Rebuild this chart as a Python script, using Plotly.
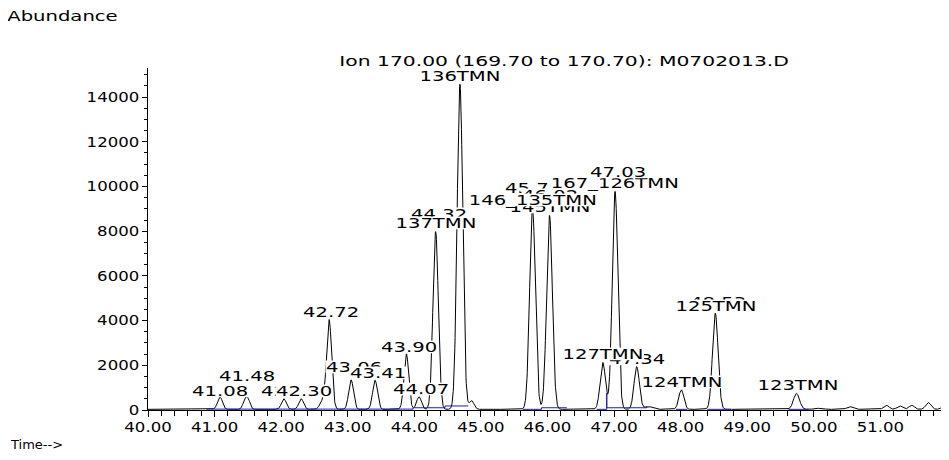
import numpy as np
import plotly.graph_objects as go

# ---- data ----
# peak table: retention time (min), apex abundance above baseline, width (sigma, min)
peak_rt = [41.08, 41.455, 41.505, 42.04, 42.30, 42.62, 42.72, 43.05, 43.41, 43.88,
           44.07, 44.32, 44.685, 44.86, 45.775, 46.03, 46.83, 47.015, 47.34, 47.52,
           48.01, 48.52, 49.74, 50.03, 50.12, 50.54, 51.09, 51.29, 51.47, 51.72, 51.97]
peak_height = [560, 400, 400, 470, 470, 350, 4000, 1320, 1300, 2480,
               560, 7950, 14550, 390, 8970, 8680, 2100, 9750, 1910, 120,
               870, 4300, 715, 50, 50, 120, 180, 150, 180, 300, 210]
peak_sigma = [0.036, 0.030, 0.030, 0.036, 0.036, 0.040, 0.038, 0.036, 0.036, 0.036,
              0.036, 0.040, 0.042, 0.036, 0.043, 0.043, 0.040, 0.042, 0.040, 0.060,
              0.038, 0.042, 0.045, 0.035, 0.035, 0.045, 0.040, 0.040, 0.040, 0.040, 0.040]
baseline_level = 30
time_start, time_end, time_step = 40.0, 52.0, 0.004

# integration baselines (time, abundance) drawn in blue; None separates segments
int_base_t = [40.88, 43.98, 43.98, 44.46, 44.46, 44.81, None,
              45.63, 45.91, 45.91, 46.29, None,
              46.74, 46.89, 46.89, 46.89, 47.49, 47.49, None,
              47.93, 48.10, None, 48.40, 48.75, None, 49.62, 49.92]
int_base_y = [40, 40, 100, 100, 180, 180, None,
              30, 30, 100, 100, None,
              30, 30, 750, 100, 100, 180, None,
              30, 30, None, 30, 30, None, 30, 30]

# peak labels: (text, retention time) in drawing order
label_text = ["41.08", "41.48", "42.04", "42.30", "42.72", "43.06", "43.41", "43.90",
              "44.07", "44.32", "137TMN", "136TMN", "45.78", "46.02", "145TMN",
              "146_135TMN", "167_126TMN", "47.03", "47.34", "127TMN", "124TMN",
              "48.53", "125TMN", "123TMN"]
label_rt = [41.08, 41.48, 42.04, 42.30, 42.72, 43.05, 43.41, 43.88,
            44.07, 44.32, 44.32, 44.685, 45.775, 46.03, 46.03,
            45.775, 47.015, 47.015, 47.34, 46.83, 48.01,
            48.52, 48.52, 49.74]

x_tick_vals = [40, 41, 42, 43, 44, 45, 46, 47, 48, 49, 50, 51]
x_tick_text = ["40.00", "41.00", "42.00", "43.00", "44.00", "45.00", "46.00",
               "47.00", "48.00", "49.00", "50.00", "51.00"]
y_tick_vals = [0, 2000, 4000, 6000, 8000, 10000, 12000, 14000]
y_tick_text = ["0", "2000", "4000", "6000", "8000", "10000", "12000", "14000"]

title_text = "Ion 170.00 (169.70 to 170.70): M0702013.D"

# ---- label placement (pixels: xshift, yshift above apex) ----
label_xshift = [0, 0, 5, 3, 2, 3, 3, 3, 2, 3, 0, 0, 0, 0, 0, 0, 0, 3, 0, 0, 1, 3, 1, 1]
label_yshift = [6, 21, 8, 8, 7.5, 13, 7.5, 7, 7.5, 18, 8.5, 8.5, 21, 21, 8.5, 8.5, 8.5,
                20, 7.7, 8.5, 7.5, 11.5, 7, 8.3]

# ---- build trace from the peak table ----
t = np.arange(time_start, time_end + time_step / 2, time_step)
signal = np.full_like(t, float(baseline_level))
for rt, h, s in zip(peak_rt, peak_height, peak_sigma):
    signal += h * np.exp(-0.5 * ((t - rt) / s) ** 2)

FONT = "DejaVu Sans"
FS = 14

fig = go.Figure()
fig.add_trace(go.Scatter(x=t, y=signal, mode="lines",
                         line=dict(color="black", width=1), hoverinfo="skip"))
fig.add_trace(go.Scatter(x=int_base_t, y=int_base_y, mode="lines",
                         line=dict(color="#1c1ca8", width=1), hoverinfo="skip",
                         connectgaps=False))

annotations = []
for txt, rt, xs, ys in zip(label_text, label_rt, label_xshift, label_yshift):
    yv = float(np.interp(rt, t, signal))
    annotations.append(dict(x=rt, y=yv, xref="x", yref="y", text=txt,
                            showarrow=False, xanchor="center", yanchor="middle",
                            xshift=xs, yshift=ys, bgcolor="white", borderpad=0,
                            font=dict(family=FONT, size=FS, color="black")))

annotations.append(dict(x=0.5207, y=1.0205, xref="paper", yref="paper", text=title_text,
                        showarrow=False, xanchor="center", yanchor="middle",
                        font=dict(family=FONT, size=FS, color="black")))
annotations.append(dict(x=-0.107, y=1.1535, xref="paper", yref="paper", text="Abundance",
                        showarrow=False, xanchor="center", yanchor="middle",
                        font=dict(family=FONT, size=FS, color="black")))
annotations.append(dict(x=-0.1396, y=-0.102, xref="paper", yref="paper", text="Time-->",
                        showarrow=False, xanchor="center", yanchor="middle",
                        font=dict(family=FONT, size=FS - 1, color="black")))

fig.update_layout(
    width=941, height=452,
    margin=dict(l=140, r=2, t=60, b=50),
    paper_bgcolor="white", plot_bgcolor="white",
    showlegend=False,
    annotations=annotations,
    xaxis=dict(range=[time_start, time_end], tickmode="array", tickvals=x_tick_vals,
               ticktext=x_tick_text, ticks="outside", ticklen=6, tickcolor="black",
               ticklabelstandoff=-2,
               showline=True, linecolor="black", linewidth=1, showgrid=False,
               zeroline=False, tickfont=dict(family=FONT, size=FS, color="black"),
               minor=dict(tickmode="linear", tick0=40, dtick=0.2, ticks="outside",
                          ticklen=5, tickcolor="black", showgrid=False)),
    yaxis=dict(range=[0, 15300], tickmode="array", tickvals=y_tick_vals,
               ticktext=y_tick_text, ticks="outside", ticklen=5, tickcolor="black",
               showline=True, linecolor="black", linewidth=1, showgrid=False,
               zeroline=False, tickfont=dict(family=FONT, size=FS, color="black"),
               minor=dict(tickmode="linear", tick0=0, dtick=500, ticks="outside",
                          ticklen=3, tickcolor="black", showgrid=False)),
)

# widen the glyphs horizontally like the instrument printout and tighten the
# label backgrounds to the glyph height (text stays real text)
post_js = """
(function(){
  var gd = document.getElementById('{plot_id}');
  if (!gd) return;
  var FS = 14, K = 1.4, KT = 1.18;
  gd.querySelectorAll('g.annotation').forEach(function(g){
    var t = g.querySelector('text.annotation-text');
    var r = g.querySelector('rect.bg');
    if (!t) return;
    var s = t.textContent;
    if (s.indexOf('Time') === 0) return;
    var k = (s.indexOf('Ion') === 0) ? 1.45 : K;
    var bb = t.getBBox();
    var w = t.getComputedTextLength();
    t.setAttribute('textLength', (w * k).toFixed(2));
    t.setAttribute('lengthAdjust', 'spacingAndGlyphs');
    if (r) {
      var rx = parseFloat(r.getAttribute('x')) || 0;
      var rw = parseFloat(r.getAttribute('width')) || 0;
      var extra = w * (k - 1);
      r.setAttribute('x', (rx - extra / 2).toFixed(2));
      r.setAttribute('width', (rw + extra).toFixed(2));
      var base = bb.y + 0.928 * FS * (bb.height / (1.164 * FS));
      var top = base - 0.729 * FS - 1;
      r.setAttribute('y', top.toFixed(2));
      r.setAttribute('height', (0.729 * FS + 2.5).toFixed(2));
    }
  });
  gd.querySelectorAll('g.xtick text, g.ytick text').forEach(function(t){
    var w = t.getComputedTextLength();
    t.setAttribute('textLength', (w * KT).toFixed(2));
    t.setAttribute('lengthAdjust', 'spacingAndGlyphs');
  });
})();
"""

fig.write_html("out.html", post_script=post_js)
